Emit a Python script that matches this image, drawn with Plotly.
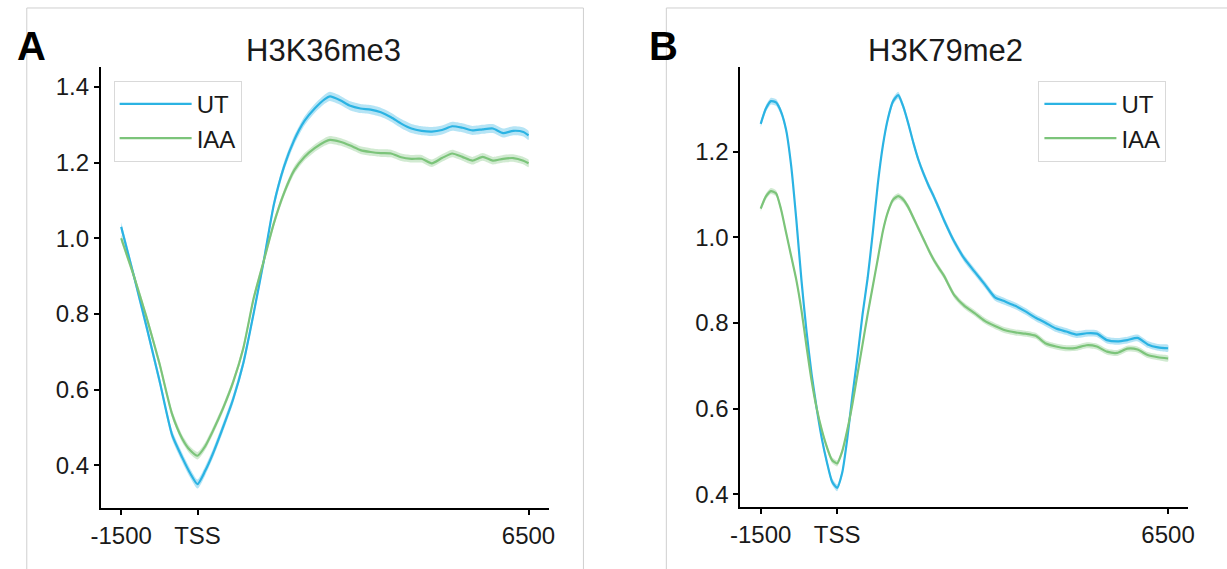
import plotly.graph_objects as go

# ---------------- data ----------------
# Panel A: H3K36me3
xA = [-1500, -1250, -1000, -750, -500, -300, -150, 0, 150, 300, 500, 700, 900, 1100,
      1300, 1500, 1700, 1900, 2100, 2300, 2500, 2600, 2800, 3000, 3200, 3400, 3600,
      3800, 4000, 4200, 4400, 4600, 4800, 5000, 5200, 5400, 5600, 5800, 6000, 6200,
      6400, 6500]
utA = [1.03, 0.90, 0.765, 0.625, 0.48, 0.42, 0.38, 0.35, 0.385, 0.43, 0.50, 0.575, 0.67, 0.80,
       0.94, 1.09, 1.19, 1.26, 1.31, 1.343, 1.368, 1.375, 1.365, 1.35, 1.343, 1.34, 1.333,
       1.32, 1.303, 1.29, 1.284, 1.282, 1.286, 1.296, 1.292, 1.285, 1.288, 1.29, 1.278, 1.284,
       1.281, 1.272]
iaaA = [1.00, 0.90, 0.79, 0.67, 0.535, 0.47, 0.44, 0.425, 0.45, 0.49, 0.55, 0.62, 0.71, 0.84,
        0.94, 1.04, 1.12, 1.18, 1.215, 1.238, 1.255, 1.26, 1.255, 1.245, 1.233, 1.228, 1.225,
        1.224, 1.214, 1.21, 1.21, 1.198, 1.212, 1.224, 1.215, 1.205, 1.215, 1.205, 1.21, 1.212,
        1.205, 1.198]
semA = {"UT": 0.012, "IAA": 0.010}

# Panel B: H3K79me2
xB = [-1500, -1400, -1300, -1200, -1100, -1000, -900, -800, -700, -600, -500, -400, -300,
      -200, -100, 0, 100, 200, 300, 400, 500, 600, 700, 800, 900, 1000, 1100, 1200, 1300,
      1400, 1500, 1600, 1700, 1800, 1900, 2000, 2100, 2300, 2500, 2700, 2900, 3100, 3300,
      3500, 3700, 3900, 4100, 4300, 4500, 4700, 4900, 5100, 5300, 5500, 5700, 5900, 6100,
      6300, 6500]
utB = [1.265, 1.300, 1.318, 1.315, 1.293, 1.25, 1.165, 1.04, 0.90, 0.78, 0.68, 0.60, 0.53,
       0.475, 0.43, 0.415, 0.45, 0.53, 0.63, 0.72, 0.82, 0.905, 1.01, 1.125, 1.215, 1.278, 1.318,
       1.332, 1.305, 1.265, 1.22, 1.18, 1.148, 1.12, 1.095, 1.068, 1.04, 0.99, 0.95, 0.92, 0.89,
       0.86, 0.85, 0.84, 0.827, 0.812, 0.80, 0.787, 0.78, 0.773, 0.776, 0.775, 0.76, 0.757,
       0.76, 0.765, 0.75, 0.743, 0.741]
iaaB = [1.067, 1.095, 1.108, 1.103, 1.065, 1.01, 0.955, 0.90, 0.83, 0.745, 0.665, 0.60, 0.55,
        0.51, 0.48, 0.472, 0.50, 0.55, 0.61, 0.68, 0.75, 0.82, 0.885, 0.95, 1.015, 1.06, 1.088,
        1.096, 1.088, 1.07, 1.045, 1.02, 0.995, 0.97, 0.947, 0.928, 0.91, 0.865, 0.84, 0.823,
        0.805, 0.793, 0.783, 0.778, 0.775, 0.77, 0.752, 0.745, 0.741, 0.742, 0.748, 0.745,
        0.733, 0.73, 0.74, 0.738, 0.725, 0.72, 0.717]
semB = {"UT": 0.008, "IAA": 0.007}

titles = ["H3K36me3", "H3K79me2"]
panel_letters = ["A", "B"]
series_names = ["UT", "IAA"]
x_tickvals = [-1500, 0, 6500]
x_ticktext = ["-1500", "TSS", "6500"]
yticksA = [0.4, 0.6, 0.8, 1.0, 1.2, 1.4]
yticksB = [0.4, 0.6, 0.8, 1.0, 1.2]

# ---------------- styling ----------------
W, H = 1227, 569
colors = {"UT": "#2bb3e3", "IAA": "#7cc47a"}
fills = {"UT": "rgba(43,179,227,0.35)", "IAA": "rgba(124,196,122,0.35)"}
FONT = "Liberation Sans, Arial, sans-serif"
TXT = "#1a1a1a"

def px(x):
    return x / W

def py(y):
    return 1 - y / H

fig = go.Figure()

panels = [
    (xA, {"UT": utA, "IAA": iaaA}, semA, "x", "y", "legend"),
    (xB, {"UT": utB, "IAA": iaaB}, semB, "x2", "y2", "legend2"),
]
for xs, ser, sem, xa, ya, lg in panels:
    for name in series_names:
        ys = ser[name]
        up = [v + sem[name] for v in ys]
        lo = [v - sem[name] for v in ys]
        fig.add_trace(go.Scatter(
            x=xs + xs[::-1], y=up + lo[::-1], fill="toself", fillcolor=fills[name],
            line=dict(width=0, shape="spline", smoothing=0.6), mode="lines",
            hoverinfo="skip", showlegend=False, xaxis=xa, yaxis=ya))
    for name in series_names:
        fig.add_trace(go.Scatter(
            x=xs, y=ser[name], mode="lines", name=name,
            line=dict(color=colors[name], width=2.2, shape="spline", smoothing=0.6),
            xaxis=xa, yaxis=ya, legend=lg))

axis_common = dict(showline=True, linecolor="black", linewidth=2, ticks="outside",
                   ticklen=5, tickwidth=1.5, tickcolor="black", showgrid=False,
                   zeroline=False, mirror=False,
                   tickfont=dict(family=FONT, size=24, color=TXT))

legend_common = dict(xanchor="left", yanchor="top", bgcolor="white",
                     bordercolor="#d9d9d9", borderwidth=1, itemwidth=72,
                     font=dict(family=FONT, size=24, color=TXT))

fig.update_layout(
    width=W, height=H, margin=dict(l=0, r=0, t=0, b=0),
    paper_bgcolor="white", plot_bgcolor="white",
    xaxis=dict(domain=[px(92), px(546)], range=[-1900, 6900], anchor="y",
               tickvals=x_tickvals, ticktext=x_ticktext, **axis_common),
    yaxis=dict(domain=[py(509), py(67)], range=[0.2865, 1.453], anchor="x",
               tickvals=yticksA, tickformat=".1f", **axis_common),
    xaxis2=dict(domain=[px(740), px(1194)], range=[-1900, 6900], anchor="y2",
                tickvals=x_tickvals, ticktext=x_ticktext, **axis_common),
    yaxis2=dict(domain=[py(508), py(67)], range=[0.370, 1.398], anchor="x2",
                tickvals=yticksB, tickformat=".1f", **axis_common),
    legend=dict(x=px(105), y=py(81), **legend_common),
    legend2=dict(x=px(1042), y=py(81), **legend_common),
    showlegend=True,
)

# panel frames
fig.add_shape(type="rect", xref="paper", yref="paper", x0=px(17), x1=px(581),
              y0=-0.05, y1=py(8), line=dict(color="#cfcfcf", width=1), layer="below")
fig.add_shape(type="rect", xref="paper", yref="paper", x0=px(665), x1=1.05,
              y0=-0.05, y1=py(8), line=dict(color="#cfcfcf", width=1), layer="below")

# titles and panel letters
for cx, t in zip([px(318), px(948)], titles):
    fig.add_annotation(x=cx, y=py(51), xref="paper", yref="paper", text=t,
                       showarrow=False, xanchor="center", yanchor="middle",
                       font=dict(family=FONT, size=31, color=TXT))
for lx, t in zip([px(22), px(662)], panel_letters):
    fig.add_annotation(x=lx, y=py(46), xref="paper", yref="paper", text="<b>" + t + "</b>",
                       showarrow=False, xanchor="center", yanchor="middle",
                       font=dict(family=FONT, size=40, color="black"))

fig.write_html("out.html", config={"displayModeBar": False},
               post_script="document.body.style.margin='0';")
